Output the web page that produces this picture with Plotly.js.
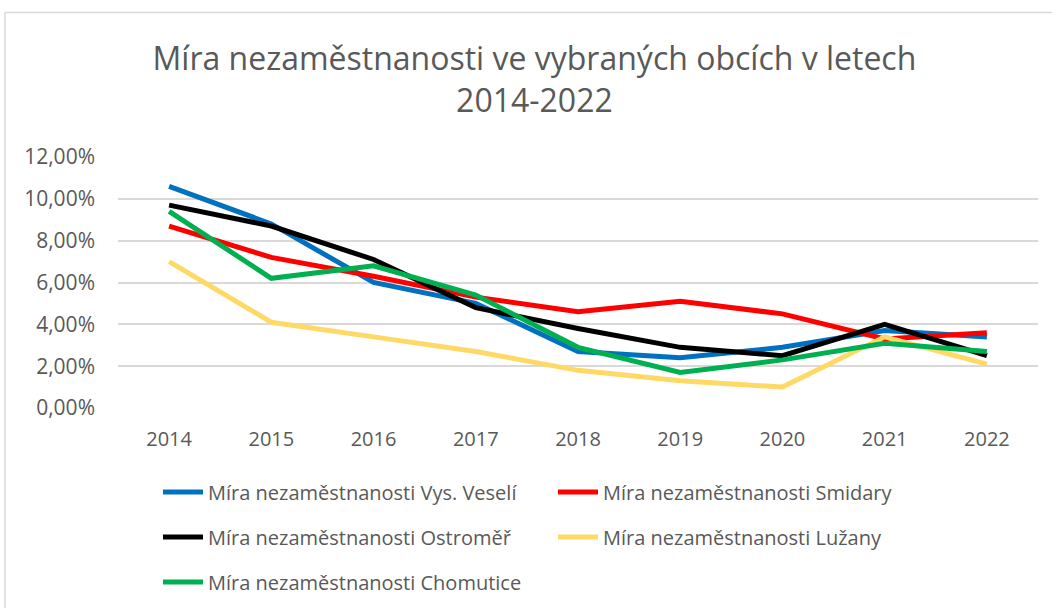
<!DOCTYPE html>
<html>
<head>
<meta charset="utf-8">
<script src="https://cdn.plot.ly/plotly-3.0.1.min.js"></script>
<style>html,body{margin:0;padding:0;background:#fff;}#chart{width:1052px;height:608px;}</style>
</head>
<body>
<div id="chart"></div>
<script>
const years = ['2014','2015','2016','2017','2018','2019','2020','2021','2022'];
const seriesNames = [
  'Míra nezaměstnanosti Vys. Veselí',
  'Míra nezaměstnanosti Smidary',
  'Míra nezaměstnanosti Ostroměř',
  'Míra nezaměstnanosti Lužany',
  'Míra nezaměstnanosti Chomutice'
];
const vysVeseli = [0.106, 0.088, 0.060, 0.050, 0.027, 0.024, 0.029, 0.037, 0.034];
const smidary   = [0.087, 0.072, 0.063, 0.053, 0.046, 0.051, 0.045, 0.033, 0.036];
const ostromer  = [0.097, 0.087, 0.071, 0.048, 0.038, 0.029, 0.025, 0.040, 0.025];
const luzany    = [0.070, 0.041, 0.034, 0.027, 0.018, 0.013, 0.010, 0.034, 0.021];
const chomutice = [0.094, 0.062, 0.068, 0.054, 0.029, 0.017, 0.023, 0.031, 0.027];
const yTicks = [0, 0.02, 0.04, 0.06, 0.08, 0.10, 0.12];

const allValues = [vysVeseli, smidary, ostromer, luzany, chomutice];
const colors = ['#0070C0', '#FF0000', '#000000', '#FFD966', '#00B050'];
const legendIds = ['legend', 'legend2', 'legend3', 'legend4', 'legend5'];
const legendPos = [[158, 492], [553, 492], [158, 537], [553, 537], [158, 582]];

const FONT = '"Open Sans", "DejaVu Sans", sans-serif';
const GREY = '#595959';

const traces = allValues.map((vals, i) => ({
  x: years,
  y: vals,
  type: 'scatter',
  mode: 'lines',
  name: seriesNames[i],
  line: {color: colors[i], width: 5},
  legend: legendIds[i],
  hoverinfo: 'x+y+name'
}));

const plotH = 608 - 157 - 200;
const layout = {
  width: 1052,
  height: 608,
  paper_bgcolor: '#ffffff',
  plot_bgcolor: '#ffffff',
  separators: ', ',
  margin: {l: 118, r: 14, t: 157, b: 200},
  font: {family: FONT, color: GREY},
  title: {
    text: 'Míra nezaměstnanosti ve vybraných obcích v letech<br>2014-2022',
    font: {family: FONT, size: 32, color: GREY},
    xref: 'container', x: 0.508, xanchor: 'center',
    yref: 'container', y: 1 - 70/608, yanchor: 'top'
  },
  xaxis: {
    type: 'category',
    range: [-0.5, 8.5],
    showgrid: false,
    zeroline: false,
    showline: false,
    ticks: '',
    ticklabelstandoff: 17,
    tickfont: {family: FONT, size: 20, color: GREY}
  },
  yaxis: {
    range: [0, 0.12],
    tickvals: yTicks,
    tickformat: '.2%',
    showgrid: true,
    gridcolor: '#D9D9D9',
    gridwidth: 1.5,
    zeroline: false,
    showline: false,
    ticks: '',
    ticklabelstandoff: 22,
    tickfont: {family: FONT, size: 21, color: GREY}
  },
  shapes: [
    {type: 'line', xref: 'paper', yref: 'paper',
     x0: -113/920, x1: 1.1, y0: (408 - 12.5)/plotH, y1: (408 - 12.5)/plotH,
     line: {color: '#D9D9D9', width: 1.5}},
    {type: 'line', xref: 'paper', yref: 'paper',
     x0: -113/920, x1: -113/920, y0: -1, y1: (408 - 12.5)/plotH,
     line: {color: '#D9D9D9', width: 1.5}}
  ],
  showlegend: true
};

legendIds.forEach((id, i) => {
  layout[id] = {
    orientation: 'h',
    xref: 'container', yref: 'container',
    x: legendPos[i][0] / 1052, xanchor: 'left',
    y: 1 - legendPos[i][1] / 608, yanchor: 'middle',
    font: {family: FONT, size: 20, color: GREY},
    bgcolor: 'rgba(0,0,0,0)',
    itemwidth: 40
  };
});

Plotly.newPlot('chart', traces, layout, {displayModeBar: false, responsive: false});
</script>
</body>
</html>
